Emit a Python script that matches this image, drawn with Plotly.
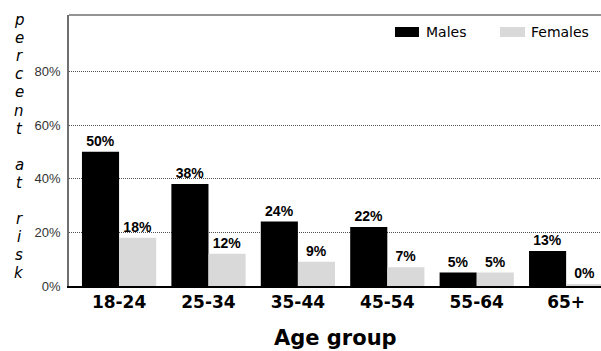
import plotly.graph_objects as go

# Share of people at risk, by age group and sex (percent)
age_groups = ["18-24", "25-34", "35-44", "45-54", "55-64", "65+"]
males = [50, 38, 24, 22, 5, 13]
females = [18, 12, 9, 7, 5, 0.4]
y_ticks = [0, 20, 40, 60, 80]
y_tick_labels = ["0%", "20%", "40%", "60%", "80%"]
y_title_lines = ["p", "e", "r", "c", "e", "n", "t", "", "a", "t", "", "r", "i", "s", "k"]

W, H = 601, 351
M_L, M_R, M_T, M_B = 69, 0, 15, 65
plot_w = W - M_L - M_R
plot_h = H - M_T - M_B

label_font = dict(family="Liberation Sans", size=14, color="#000000")

fig = go.Figure()
fig.add_trace(go.Bar(
    x=age_groups, y=males, name="Males",
    marker=dict(color="#000000", line=dict(width=0)),
    texttemplate="<b>%{y:.0f}%</b>", textposition="outside",
    textfont=label_font, cliponaxis=False, showlegend=False,
))
fig.add_trace(go.Bar(
    x=age_groups, y=females, name="Females",
    marker=dict(color="#d9d9d9", line=dict(width=0)),
    texttemplate="<b>%{y:.0f}%</b>", textposition="outside",
    textfont=label_font, cliponaxis=False, showlegend=False,
))


def px_x(px):
    return (px - M_L) / plot_w


def px_y(py):
    return (M_T + plot_h - py) / plot_h


# Top frame line and hand-built legend swatches
shapes = [
    dict(type="line", xref="paper", yref="paper", x0=0, x1=1, y0=1, y1=1,
         line=dict(color="#707070", width=1.5)),
    dict(type="rect", xref="paper", yref="paper",
         x0=px_x(395), x1=px_x(419), y0=px_y(37), y1=px_y(27),
         fillcolor="#000000", line=dict(width=0)),
    dict(type="rect", xref="paper", yref="paper",
         x0=px_x(500), x1=px_x(525), y0=px_y(37), y1=px_y(27),
         fillcolor="#d9d9d9", line=dict(width=0)),
]

legend_font = dict(family="DejaVu Sans", size=14, color="#000000")
annotations = [
    dict(text="Males", xref="paper", yref="paper", x=px_x(424), y=px_y(32),
         xanchor="left", yanchor="middle", showarrow=False, font=legend_font),
    dict(text="Females", xref="paper", yref="paper", x=px_x(529), y=px_y(32),
         xanchor="left", yanchor="middle", showarrow=False, font=legend_font),
    dict(text="<b>Age group</b>", xref="paper", yref="paper", x=0.5, y=px_y(338),
         xanchor="center", yanchor="middle", showarrow=False,
         font=dict(family="DejaVu Sans", size=21, color="#000000")),
]

# Vertical, letter-by-letter axis title
for i, ch in enumerate(y_title_lines):
    if not ch:
        continue
    annotations.append(dict(
        text="<i>" + ch + "</i>", xref="paper", yref="paper",
        x=px_x(19), y=px_y(20 + i * 18.1),
        xanchor="center", yanchor="middle", showarrow=False,
        font=dict(family="DejaVu Sans", size=15, color="#000000"),
    ))

fig.update_layout(
    width=W, height=H,
    margin=dict(l=M_L, r=M_R, t=M_T, b=M_B, pad=0),
    paper_bgcolor="white", plot_bgcolor="white",
    barmode="group", bargap=0.17, bargroupgap=0,
    shapes=shapes, annotations=annotations,
    font=dict(family="Liberation Sans", color="#000000"),
)
fig.update_xaxes(
    type="category", range=[-0.56, 5.39],
    showline=True, linecolor="#000000", linewidth=1.5,
    showgrid=False, ticks="",
    tickfont=dict(family="DejaVu Sans", size=17, color="#000000"),
    tickprefix="<b>", ticksuffix="</b>",
)
fig.update_yaxes(
    range=[0, 101],
    tickvals=y_ticks, ticktext=y_tick_labels,
    tickfont=dict(family="Liberation Sans", size=13, color="#333333"),
    showline=True, linecolor="#707070", linewidth=1.5,
    showgrid=True, gridcolor="#505050", gridwidth=1, griddash="1px,1px",
    zeroline=False, ticks="", ticklabelstandoff=4,
)

fig.write_html("out.html")
